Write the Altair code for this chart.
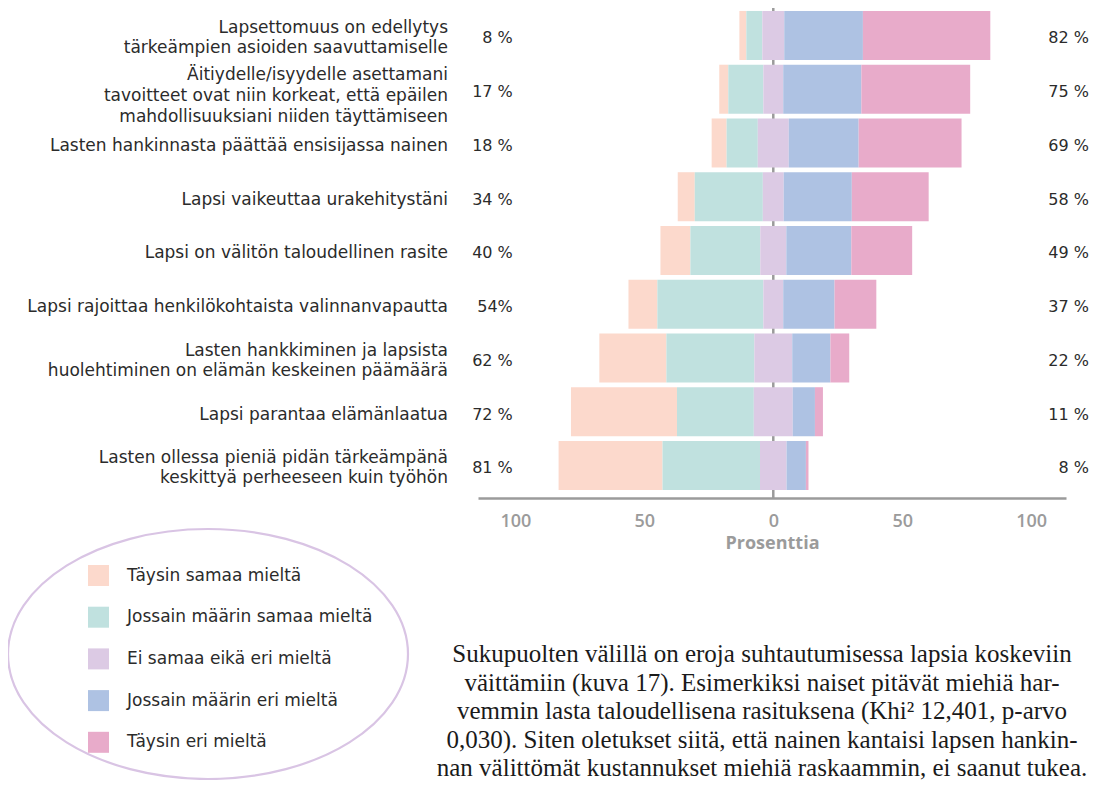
import altair as alt
import pandas as pd

categories = [
    "Lapsettomuus on edellytys|tärkeämpien asioiden saavuttamiselle",
    "Äitiydelle/isyydelle asettamani |tavoitteet ovat niin korkeat, että epäilen|mahdollisuuksiani niiden täyttämiseen",
    "Lasten hankinnasta päättää ensisijassa nainen",
    "Lapsi vaikeuttaa urakehitystäni",
    "Lapsi on välitön taloudellinen rasite",
    "Lapsi rajoittaa henkilökohtaista valinnanvapautta",
    "Lasten hankkiminen ja lapsista|huolehtiminen on elämän keskeinen päämäärä",
    "Lapsi parantaa elämänlaatua",
    "Lasten ollessa pieniä pidän tärkeämpänä|keskittyä perheeseen kuin työhön",
]
left_labels = ["8 %", "17 %", "18 %", "34 %", "40 %", "54%", "62 %", "72 %", "81 %"]
right_labels = ["82 %", "75 %", "69 %", "58 %", "49 %", "37 %", "22 %", "11 %", "8 %"]

responses = [
    "Täysin samaa mieltä",
    "Jossain määrin samaa mieltä",
    "Ei samaa eikä eri mieltä",
    "Jossain määrin eri mieltä",
    "Täysin eri mieltä",
]
colors = ["#fcd9cc", "#c0e1df", "#dccae4", "#aec2e3", "#e8abca"]

fully_agree = [2.7, 3.5, 5.8, 6.6, 11.6, 11.2, 26.0, 41.1, 40.3]
somewhat_agree = [6.2, 13.6, 12.1, 26.4, 27.1, 41.1, 34.1, 29.8, 37.8]
neutral = [8.5, 7.7, 12.0, 8.1, 10.1, 7.7, 14.7, 15.1, 10.3]
somewhat_disagree = [30.5, 30.3, 27.1, 26.4, 25.2, 19.9, 14.8, 8.6, 7.5]
fully_disagree = [49.4, 42.2, 39.9, 29.8, 23.6, 16.2, 7.3, 3.1, 1.0]

tick_values = [-100, -50, 0, 50, 100]

paragraph = [
    "Sukupuolten välillä on eroja suhtautumisessa lapsia koskeviin",
    "väittämiin (kuva 17). Esimerkiksi naiset pitävät miehiä har-",
    "vemmin lasta taloudellisena rasituksena (Khi² 12,401, p-arvo",
    "0,030). Siten oletukset siitä, että nainen kantaisi lapsen hankin-",
    "nan välittömät kustannukset miehiä raskaammin, ei saanut tukea.",
]

# ---- build the diverging stacked table ----
rows = []
for i, cat in enumerate(categories):
    half = neutral[i] / 2
    a1 = -half - somewhat_agree[i]
    segs = [
        (a1 - fully_agree[i], a1),
        (a1, -half),
        (-half, half),
        (half, half + somewhat_disagree[i]),
        (half + somewhat_disagree[i], half + somewhat_disagree[i] + fully_disagree[i]),
    ]
    for k, (s, e) in enumerate(segs):
        rows.append({"cat": cat, "resp": responses[k], "start": s, "end": e, "order": k})
bars_df = pd.DataFrame(rows)

pct_df = pd.DataFrame({
    "cat": categories,
    "left": left_labels,
    "right": right_labels,
    "nlines": [c.count("|") + 1 for c in categories],
})

SANS = "DejaVu Sans"
GREY = "#9b9b9b"
DARK = "#2b2b2b"

x_scale = alt.Scale(domain=[-114.5, 113.5], nice=False, zero=False)
y_scale = alt.Scale(paddingInner=0.088, paddingOuter=0.102, align=0.27)


def y_enc(with_scale=False):
    if with_scale:
        return alt.Y("cat:N", sort=categories, scale=y_scale, axis=None)
    return alt.Y("cat:N", sort=categories, axis=None)


zero_rule = (
    alt.Chart(pd.DataFrame({"z": [0]}))
    .mark_rule(color=GREY, strokeWidth=2.5)
    .encode(x=alt.X("z:Q", scale=x_scale))
)

bars = (
    alt.Chart(bars_df)
    .mark_bar()
    .encode(
        x=alt.X(
            "start:Q",
            scale=x_scale,
            axis=alt.Axis(
                values=tick_values,
                labelExpr="abs(datum.value)",
                grid=False,
                ticks=False,
                tickSize=0,
                domainColor=GREY,
                domainWidth=2.5,
                labelFont="Open Sans",
                labelFontSize=18,
                labelFontWeight=600,
                labelColor=GREY,
                labelPadding=23,
                labelBaseline="middle",
                title="Prosenttia",
                titleFont="Open Sans",
                titleFontSize=18,
                titleFontWeight="bold",
                titleColor=GREY,
                titleY=45,
                titleBaseline="middle",
            ),
        ),
        x2="end:Q",
        y=y_enc(True),
        color=alt.Color(
            "resp:N",
            scale=alt.Scale(domain=responses, range=colors),
            legend=alt.Legend(
                title=None,
                orient="none",
                legendX=-390,
                legendY=557,
                symbolType="square",
                symbolSize=441,
                symbolStrokeWidth=0,
                symbolOpacity=1,
                labelFont=SANS,
                labelFontSize=17,
                labelColor=DARK,
                labelOffset=18,
                rowPadding=20.7,
                padding=0,
                labelLimit=0,
            ),
        ),
        order="order:Q",
    )
)

line_setup = {1: (20, 3), 2: (20, -7), 3: (21, -14)}
cat_layers = []
for n, (lh, dy) in line_setup.items():
    cat_layers.append(
        alt.Chart(pct_df)
        .transform_filter(alt.datum.nlines == n)
        .mark_text(align="right", baseline="middle", font=SANS, fontSize=17, color=DARK,
                   lineBreak="|", lineHeight=lh, dy=dy)
        .encode(x=alt.value(-30), y=y_enc(), text="cat:N")
    )

left_text = (
    alt.Chart(pct_df)
    .mark_text(align="right", baseline="middle", font=SANS, fontSize=16, color=DARK, dy=3)
    .encode(x=alt.datum(-101), y=y_enc(), text="left:N")
)
right_text = (
    alt.Chart(pct_df)
    .mark_text(align="right", baseline="middle", font=SANS, fontSize=16, color=DARK, dy=3)
    .encode(x=alt.datum(122.4), y=y_enc(), text="right:N")
)

ellipse_path = "M-1,0 A1,0.625 0 1,1 1,0 A1,0.625 0 1,1 -1,0 Z"
ellipse = (
    alt.Chart(pd.DataFrame({"e": [0]}))
    .mark_point(shape=ellipse_path, size=160000, filled=False, stroke="#d9c4e4",
                strokeWidth=2.2, opacity=1)
    .encode(x=alt.value(-270), y=alt.value(646))
)

para = (
    alt.Chart(pd.DataFrame({"p": [0]}))
    .mark_text(text=paragraph, font="Liberation Serif", fontSize=25, lineHeight=28.5,
               align="center", baseline="alphabetic", color="#1a1a1a")
    .encode(x=alt.value(284), y=alt.value(654))
)

chart = (
    alt.layer(zero_rule, bars, *cat_layers, left_text, right_text, ellipse, para)
    .properties(
        width=588,
        height=490,
        autosize=alt.AutoSizeParams(type="none"),
        padding={"left": 470, "top": 0, "right": 26, "bottom": 282},
    )
    .configure_view(stroke=None)
)

chart.save("out.html", embed_options={"renderer": "svg", "actions": False})
